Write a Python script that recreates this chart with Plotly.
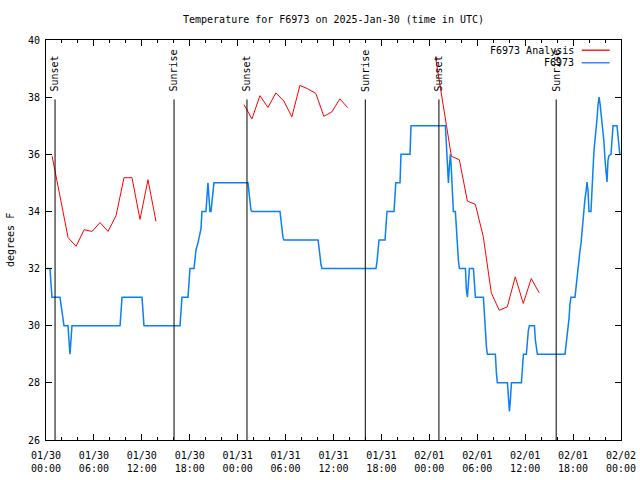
import pandas as pd
import plotly.graph_objects as go

# ---------------- data ----------------
START = pd.Timestamp("2025-01-30 00:00")

# Hourly analysis values (hours since 01/30 00:00 UTC, degrees F)
analysis_hours_d1 = [0.77, 1.77, 2.77, 3.77, 4.77, 5.77, 6.77, 7.77, 8.77, 9.77, 10.77, 11.77, 12.77, 13.77]
analysis_temp_d1 = [35.93, 34.5, 33.08, 32.78, 33.36, 33.30, 33.61, 33.30, 33.85, 35.18, 35.18, 33.72, 35.11, 33.65]
analysis_hours_d2 = [24.79, 25.79, 26.79, 27.79, 28.79, 29.79, 30.79, 31.79, 32.79, 33.79, 34.79, 35.79, 36.79, 37.79]
analysis_temp_d2 = [37.74, 37.24, 38.05, 37.64, 38.15, 37.86, 37.31, 38.41, 38.29, 38.13, 37.33, 37.48, 37.94, 37.63]
analysis_hours_d3 = [48.76, 49.76, 50.76, 51.76, 52.76, 53.76, 54.76, 55.76, 56.76, 57.76, 58.76, 59.76, 60.76, 61.76]
analysis_temp_d3 = [39.42, 37.67, 35.93, 35.81, 34.36, 34.25, 33.11, 31.15, 30.54, 30.66, 31.71, 30.78, 31.65, 31.15]

# Observed station values (hours since 01/30 00:00 UTC, degrees F)
obs_hours = [
    0.1, 0.5, 0.62, 0.75, 1.75, 1.88, 2.0, 2.12, 2.25, 2.75, 2.88, 3.0, 3.13, 3.25,
    9.27, 9.4, 9.52, 12.02, 12.15, 12.27, 16.78, 16.9, 17.03, 17.78, 17.9, 18.03,
    18.53, 18.66, 18.78, 19.03, 19.28, 19.41, 19.53, 20.03, 20.28, 20.41, 20.53, 20.66, 20.78, 21.03,
    25.29, 25.41, 25.54, 25.66, 25.79, 29.3, 29.42, 29.55, 29.67, 29.8,
    34.06, 34.18, 34.31, 34.43, 34.56, 41.32, 41.45, 41.57, 41.7, 42.45, 42.57, 42.7,
    43.58, 43.7, 43.8, 44.33, 44.45, 45.58, 45.7,
    50.01, 50.14, 50.26, 50.39, 50.51, 50.64, 50.76, 50.89, 51.01, 51.26, 51.39, 51.51, 51.64, 51.76,
    52.52, 52.64, 52.77, 52.89, 53.02, 53.52, 53.64, 53.77, 54.77, 54.9, 55.02, 55.15, 55.27,
    56.27, 56.4, 56.52, 57.78, 57.9, 58.03, 58.15, 58.28, 59.53, 59.65, 59.78,
    60.15, 60.28, 60.4, 60.53, 61.16, 61.28, 61.41, 61.53,
    64.99, 65.11, 65.24, 65.36, 65.49, 65.61, 65.74, 66.24, 66.36, 66.49, 66.62, 66.74, 66.87, 66.99,
    67.12, 67.24, 67.37, 67.49, 67.62, 67.74, 67.87, 67.99, 68.24, 68.37, 68.49, 68.62, 68.74, 68.87,
    69.0, 69.12, 69.25, 69.37, 69.5, 69.62, 69.75, 69.87, 70.0, 70.12, 70.25, 70.37, 70.5, 70.75,
    70.87, 71.0, 71.5, 71.62, 71.75, 71.85,
]
obs_temp = [
    32.0, 32.0, 31.5, 31.0, 31.0, 30.7, 30.4, 30.15, 30.0, 30.0, 29.6, 29.0, 29.5, 30.0,
    30.0, 30.5, 31.0, 31.0, 30.5, 30.0, 30.0, 30.5, 31.0, 31.0, 31.5, 32.0,
    32.0, 32.35, 32.65, 32.9, 33.2, 33.4, 34.0, 34.0, 35.0, 34.3, 34.0, 34.0, 34.3, 35.0,
    35.0, 34.6, 34.3, 34.05, 34.0, 34.0, 33.7, 33.35, 33.1, 33.0,
    33.0, 32.75, 32.4, 32.15, 32.0, 32.0, 32.25, 32.8, 33.0, 33.0, 33.5, 34.0,
    34.0, 34.5, 35.0, 35.0, 36.0, 36.0, 37.0,
    37.0, 36.25, 35.3, 35.0, 35.6, 36.0, 35.44, 34.56, 34.0, 34.0, 33.28, 32.64, 32.29, 32.0,
    32.0, 31.24, 31.0, 31.5, 32.0, 32.0, 31.24, 31.0, 31.0, 30.31, 29.73, 29.26, 29.0,
    29.0, 28.33, 28.0, 28.0, 27.4, 27.0, 27.4, 28.0, 28.0, 28.5, 29.0,
    29.0, 29.49, 29.84, 30.0, 30.0, 29.49, 29.2, 29.0,
    29.0, 29.26, 29.61, 29.9, 30.25, 30.75, 31.0, 31.0, 31.36, 31.71, 32.06, 32.35, 32.64, 32.87,
    33.28, 33.8, 34.1, 34.45, 34.68, 35.03, 34.74, 34.0, 34.0, 34.56, 35.44, 36.14, 36.43, 36.84,
    37.24, 37.71, 38.0, 37.78, 37.42, 37.07, 36.78, 36.43, 35.79, 35.32, 35.03, 35.79, 35.96, 36.0,
    36.72, 37.0, 37.0, 36.72, 36.25, 36.0,
]

sun_events = ["Sunset", "Sunrise", "Sunset", "Sunrise", "Sunset", "Sunrise"]
sun_times = ["2025-01-30 01:08", "2025-01-30 16:02", "2025-01-31 01:10",
             "2025-01-31 15:59", "2025-02-01 01:12", "2025-02-01 15:53"]

series_names = ["F6973 Analysis", "F6973"]
title_text = "Temperature for F6973 on 2025-Jan-30 (time in UTC)"
y_label = "degrees F"

# ---------------- figure ----------------
FONT = "DejaVu Sans Mono"
RED = "#ff0000"
BLUE = "#0a80f5"
W, H = 640, 480


def to_time(hours):
    return START + pd.to_timedelta(pd.Series(hours), unit="h")


fig = go.Figure()

# Analysis: three separate day segments joined with gaps
an_x = list(to_time(analysis_hours_d1)) + [None] + list(to_time(analysis_hours_d2)) + [None] + list(to_time(analysis_hours_d3))
an_y = analysis_temp_d1 + [None] + analysis_temp_d2 + [None] + analysis_temp_d3
fig.add_trace(go.Scatter(x=an_x, y=an_y, mode="lines", name=series_names[0],
                         line=dict(color=RED, width=1), connectgaps=False, showlegend=False))
fig.add_trace(go.Scatter(x=list(to_time(obs_hours)), y=obs_temp, mode="lines", name=series_names[1],
                         line=dict(color=BLUE, width=1.5), showlegend=False))

# Sunrise / sunset markers
LINE_TOP = 37.92
for ev, t in zip(sun_events, sun_times):
    fig.add_shape(type="line", xref="x", yref="y", x0=t, x1=t, y0=26, y1=LINE_TOP,
                  line=dict(color="black", width=1))
    fig.add_annotation(x=t, y=38.16, xref="x", yref="y", text=ev, textangle=-90,
                       showarrow=False, xanchor="center", yanchor="bottom",
                       font=dict(family=FONT, size=10, color="black"), borderpad=0)

# Manual gnuplot-style legend (text then line sample)
legend_rows = [(0.9745, RED), (0.943, BLUE)]
for name, (yy, col) in zip(series_names, legend_rows):
    fig.add_annotation(x=0.9195, y=yy, xref="paper", yref="paper", text=name, showarrow=False,
                       xanchor="right", yanchor="middle", borderpad=0,
                       font=dict(family=FONT, size=10, color="black"))
    fig.add_shape(type="line", xref="paper", yref="paper", x0=0.9317, x1=0.9803, y0=yy, y1=yy,
                  line=dict(color=col, width=1.3))

# y-axis label
fig.add_annotation(x=-36 / 575, y=0.5, xref="paper", yref="paper", text=y_label, textangle=-90,
                   showarrow=False, xanchor="center", yanchor="middle", borderpad=0,
                   font=dict(family=FONT, size=10, color="black"))

fig.update_layout(
    width=W, height=H,
    margin=dict(l=46, r=19, t=40, b=40, autoexpand=False),
    paper_bgcolor="white", plot_bgcolor="white",
    font=dict(family=FONT, size=10, color="black"),
    title=dict(text=title_text, x=0.5, xref="paper", y=1 - 19 / H, yref="container",
               xanchor="center", yanchor="middle", font=dict(family=FONT, size=10, color="black")),
    showlegend=False,
)
fig.update_xaxes(
    type="date", range=["2025-01-30 00:00", "2025-02-02 00:00"],
    tick0="2025-01-30 00:00", dtick=6 * 3600 * 1000, tickformat="%m/%d<br>%H:%M",
    ticks="inside", ticklen=6, tickcolor="black", tickwidth=1, ticklabelstandoff=6,
    ticklabeloverflow="allow", automargin=False,
    showline=True, linecolor="black", linewidth=1, mirror="ticks",
    showgrid=False, zeroline=False,
    minor=dict(ticks="inside", ticklen=3, dtick=2 * 3600 * 1000, tickcolor="black", showgrid=False),
)
fig.update_yaxes(
    range=[26, 40], tick0=26, dtick=2,
    ticks="inside", ticklen=6, tickcolor="black", tickwidth=1, ticklabelstandoff=3,
    automargin=False,
    showline=True, linecolor="black", linewidth=1, mirror="ticks",
    showgrid=False, zeroline=False,
)

# The page body's default 8px margin would push a 640x480 figure past the window.
fig.write_html("out.html", config={"displayModeBar": False},
               post_script="document.body.style.margin='0px';")
